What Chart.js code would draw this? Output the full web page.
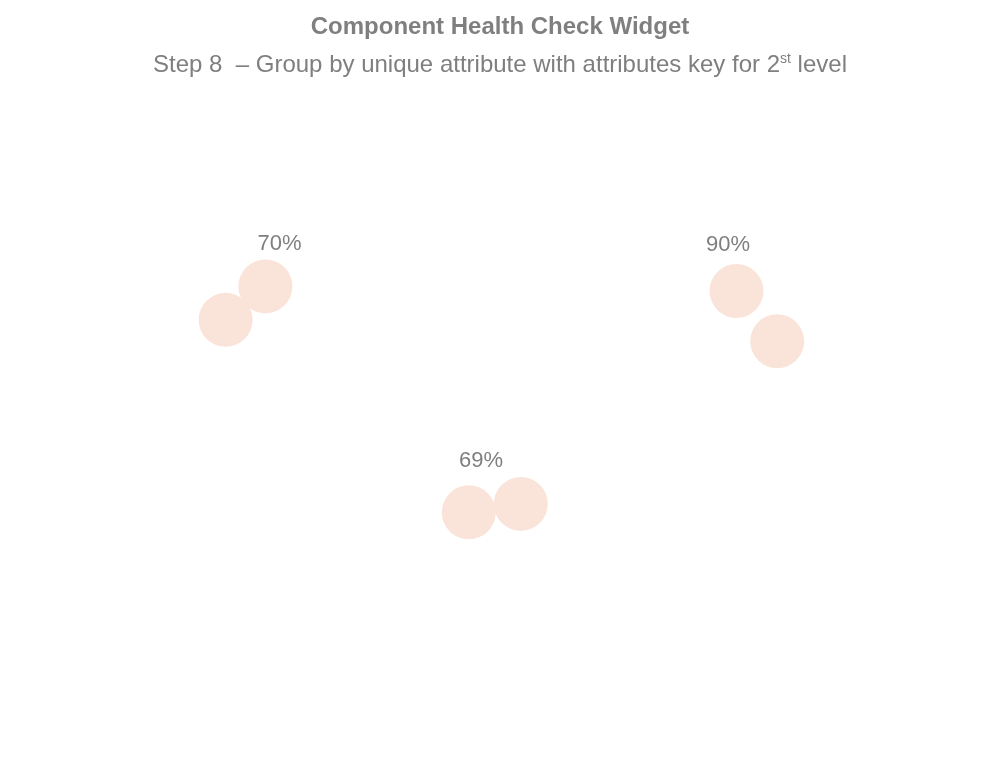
<!DOCTYPE html>
<html>
<head>
<meta charset="utf-8">
<script src="https://cdn.jsdelivr.net/npm/chart.js@4.4.0/dist/chart.umd.min.js"></script>
<style>
  body { margin: 0; background: #fff; font-family: "Liberation Sans", Arial, sans-serif; }
  .wrap { position: relative; width: 1000px; height: 768px; }
  .titles { position: absolute; top: 10px; left: 0; width: 1000px; text-align: center; color: #7f7f7f; }
  .titles h1 { margin: 0; font-size: 24px; font-weight: bold; line-height: 32px; }
  .titles h2 { margin: 0; font-size: 24px; font-weight: normal; line-height: 32px; }
  .titles sup { font-size: 14px; }
  canvas { position: absolute; top: 0; left: 0; }
</style>
</head>
<body>
<div class="wrap">
  <canvas id="chart" width="1000" height="768"></canvas>
  <div class="titles">
    <h1>Component Health Check Widget</h1>
    <h2>Step 8&nbsp; – Group by unique attribute with attributes key for 2<sup>st</sup> level</h2>
  </div>
</div>
<script>
// bubble positions (scale units = pixels of the 1000x768 frame)
const bubbleX = [210, 252, 750, 793, 467, 522];
const bubbleY = [315, 279, 284, 338, 522, 513];
const bubbleR = [27, 27, 27, 27, 27, 27];

// group labels
const groupLabels = ["70%", "90%", "69%"];
const groupX = [267, 741, 480];
const groupY = [233, 234, 467];

const groupLabelPlugin = {
  id: "groupLabels",
  afterDatasetsDraw(chart) {
    const ctx = chart.ctx;
    const xs = chart.scales.x;
    const ys = chart.scales.y;
    ctx.save();
    ctx.fillStyle = "#7f7f7f";
    ctx.font = "22px 'Liberation Sans', Arial, sans-serif";
    ctx.textAlign = "center";
    ctx.textBaseline = "middle";
    groupLabels.forEach((label, i) => {
      ctx.fillText(label, xs.getPixelForValue(groupX[i]), ys.getPixelForValue(groupY[i]));
    });
    ctx.restore();
  },
};

new Chart(document.getElementById("chart"), {
  type: "bubble",
  data: {
    datasets: [
      {
        data: bubbleX.map((x, i) => ({ x: x, y: bubbleY[i], r: bubbleR[i] })),
        backgroundColor: "#fae4d9",
        borderWidth: 0,
      },
    ],
  },
  options: {
    responsive: false,
    animation: false,
    layout: { padding: 0 },
    plugins: { legend: { display: false }, tooltip: { enabled: false } },
    scales: {
      x: { display: false, min: 0, max: 1000 },
      y: { display: false, min: 0, max: 768, reverse: true },
    },
  },
  plugins: [groupLabelPlugin],
});
</script>
</body>
</html>
